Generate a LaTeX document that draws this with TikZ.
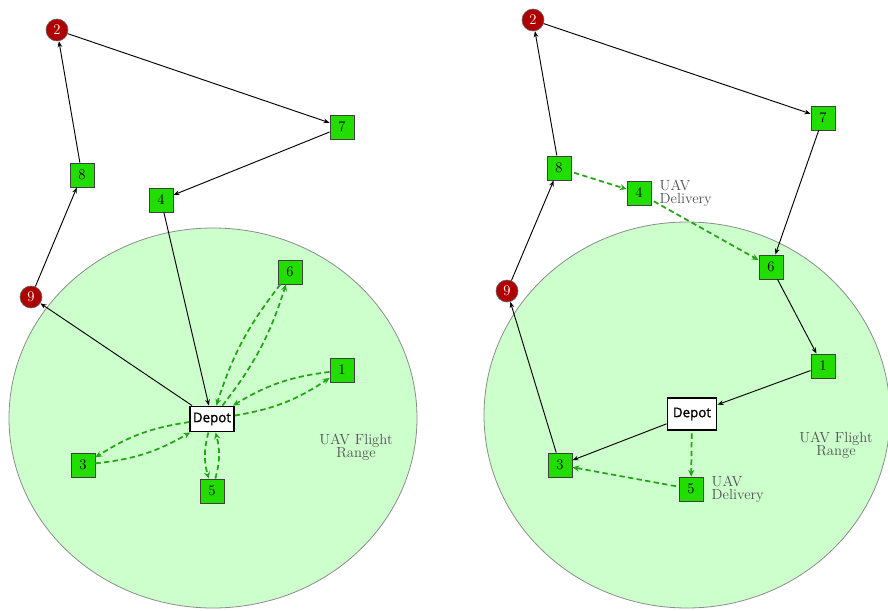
\documentclass[tikz,border=0pt]{standalone}
\usepackage{fontspec}
\newfontfamily\depotfont[FakeBold=1.2]{Open Sans}
\usetikzlibrary{arrows.meta,positioning}

\definecolor{verdeno}{RGB}{34,221,0}
\definecolor{vermelho}{RGB}{175,0,0}
\definecolor{alcance}{RGB}{204,255,204}
\definecolor{verdeuav}{RGB}{34,165,20}
\definecolor{cinzatexto}{RGB}{80,80,80}

\tikzset{
  cliente/.style={draw=black!75,fill=verdeno,minimum size=18pt,inner sep=0pt,line width=0.7pt,font=\fontsize{11}{10}\selectfont},
  visitado/.style={circle,draw=black!60,fill=vermelho,text=white,minimum size=16.5pt,inner sep=0pt,line width=0.5pt,font=\fontsize{11}{10}\selectfont},
  deposito/.style={draw,fill=white,line width=1.2pt,inner sep=0pt,font=\depotfont\fontsize{10}{10}\selectfont},
  rota/.style={-{Stealth[length=4.5pt,width=3.5pt]},line width=0.7pt},
  uav/.style={-{Stealth[length=5pt,width=4.5pt]},draw=verdeuav,line width=1.3pt,dash pattern=on 4pt off 2.5pt},
  rotulo/.style={text=cinzatexto,inner sep=1pt,font=\fontsize{11}{10}\selectfont},
  raio/.style={draw=black!45,fill=alcance,line width=0.6pt}
}

\begin{document}
\begin{tikzpicture}[x=0.75pt,y=-0.75pt]
    \useasboundingbox (0,0) rectangle (888,610);
    % Alcance de voo
    \filldraw[raio] (213,418) ellipse [x radius=204, y radius=190];
    \filldraw[raio] (687,415) ellipse [x radius=203, y radius=193];
    \node[rotulo,align=center] (Lalc) at (356,447) {UAV Flight\\Range};
    \node[rotulo,align=center] (Ralc) at (836,445) {UAV Flight\\Range};
    % Lado esquerdo: clientes
    \foreach \n/\x/\y in {7/342/127, 8/82/175, 4/161/200, 6/290/272, 1/342/370, 3/83/465, 5/212/491}
        \node[cliente] (L\n) at (\x,\y) {\n};
    \foreach \n/\x/\y in {2/57/30, 9/31/297}
        \node[visitado] (L\n) at (\x,\y) {\n};
    \node[deposito,minimum width=33pt,minimum height=19pt] (LD) at (212,419) {Depot};
    % Lado esquerdo: rota do caminhao
    \foreach \a/\b in {D/9, 9/8, 8/2, 2/7, 7/4, 4/D}
        \draw[rota] (L\a) -- (L\b);
    % Lado esquerdo: voos do UAV
    \foreach \c/\k in {6/10, 1/12, 3/12, 5/15} {
        \draw[uav] (LD) to[bend right=\k] (L\c);
        \draw[uav] (L\c) to[bend right=\k] (LD);
    }
    % Lado direito: clientes
    \foreach \n/\x/\y in {7/823/118, 8/559/168, 4/639/193, 6/771/267, 1/823/366, 3/560/465, 5/691/489}
        \node[cliente] (R\n) at (\x,\y) {\n};
    \foreach \n/\x/\y in {2/533/20, 9/507/291}
        \node[visitado] (R\n) at (\x,\y) {\n};
    \node[deposito,minimum width=37pt,minimum height=24pt] (RD) at (692,414) {Depot};
    \node[rotulo,align=left,right=5pt of R4] (R4t) {UAV\\Delivery};
    \node[rotulo,align=left,right=5pt of R5] (R5t) {UAV\\Delivery};
    % Lado direito: rota do caminhao
    \foreach \a/\b in {9/8, 8/2, 2/7, 7/6, 6/1, 1/D, D/3, 3/9}
        \draw[rota] (R\a) -- (R\b);
    % Lado direito: entregas do UAV
    \foreach \a/\b in {8/4, 4/6, D/5, 5/3}
        \draw[uav,shorten <=2pt] (R\a) -- (R\b);
\end{tikzpicture}
\end{document}
